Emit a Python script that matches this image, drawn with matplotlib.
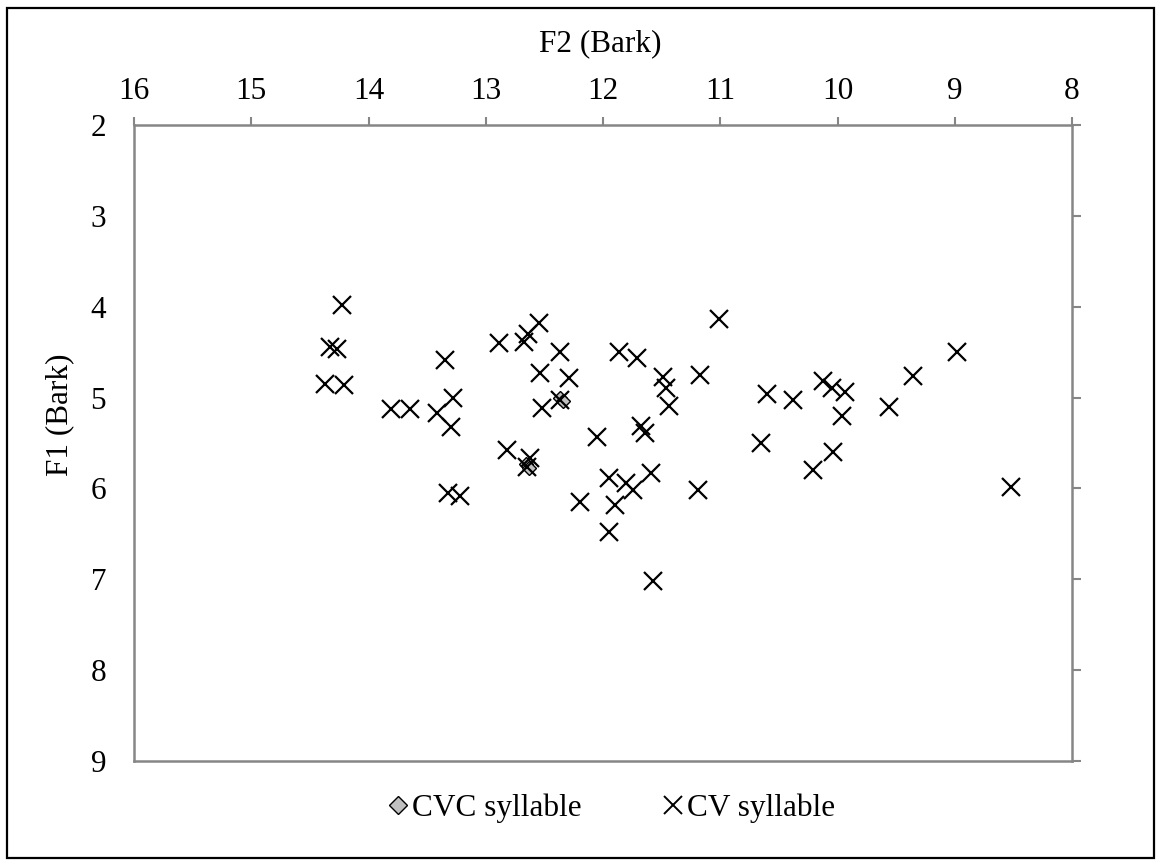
import numpy as np
import matplotlib.pyplot as plt
from matplotlib.patches import Rectangle
from matplotlib.lines import Line2D

plt.rcParams['font.family'] = ['Liberation Serif', 'DejaVu Serif']

# CV syllable (F2, F1) in Bark
cv_f2 = [14.23, 14.33, 14.27, 14.37, 14.21, 13.81, 13.65, 13.42, 13.28, 13.30,
         13.35, 12.89, 12.82, 13.32, 13.22, 12.55, 12.64, 12.67, 12.37, 12.54,
         12.29, 12.37, 12.52, 12.62, 12.65, 12.05, 11.86, 11.71, 11.49, 11.46,
         11.44, 11.68, 11.64, 11.01, 11.17, 11.95, 11.80, 11.74, 11.59, 12.20,
         11.90, 11.95, 11.19, 11.57, 10.60, 10.38, 10.12, 10.05, 9.94, 9.96,
         10.04, 10.21, 10.65, 8.98, 9.36, 9.56, 8.52]
cv_f1 = [3.98, 4.44, 4.46, 4.85, 4.86, 5.13, 5.13, 5.17, 5.01, 5.32,
         4.59, 4.40, 5.58, 6.05, 6.08, 4.18, 4.30, 4.39, 4.50, 4.73,
         4.78, 5.03, 5.11, 5.66, 5.76, 5.43, 4.50, 4.56, 4.77, 4.89,
         5.09, 5.31, 5.39, 4.14, 4.75, 5.88, 5.94, 6.02, 5.83, 6.15,
         6.18, 6.48, 6.02, 7.02, 4.96, 5.03, 4.82, 4.90, 4.94, 5.20,
         5.60, 5.80, 5.50, 4.50, 4.76, 5.10, 5.98]

# CVC syllable
cvc_f2 = [12.37, 12.34, 12.66, 12.63]
cvc_f1 = [5.01, 5.04, 5.73, 5.77]

x_ticks = [16, 15, 14, 13, 12, 11, 10, 9, 8]
y_ticks = [2, 3, 4, 5, 6, 7, 8, 9]

grey = '#868686'
fs = 22.5

fig = plt.figure(figsize=(11.62, 8.65), dpi=100)
ax = fig.add_axes([134 / 1162, 1 - 761 / 865, (1072 - 134) / 1162, (761 - 125) / 865])

ax.plot(cvc_f2, cvc_f1, linestyle='none', marker='D', ms=7.5, mfc='#c0c0c0',
        mec='black', mew=1.0, label='CVC syllable')
ax.plot(cv_f2, cv_f1, linestyle='none', marker='x', ms=13.5, mec='black',
        mew=1.6, label='CV syllable')

ax.set_xlim(16, 8)
ax.set_ylim(9, 2)
ax.set_xticks(x_ticks)
ax.set_yticks(y_ticks)
ax.xaxis.tick_top()
ax.tick_params(axis='x', which='both', top=True, bottom=False, direction='out',
               length=6, width=1.5, color=grey, labelsize=fs, pad=8)
ax.tick_params(axis='y', which='both', left=False, right=True, labelleft=True,
               labelright=False, direction='out', length=6.5, width=1.5,
               color=grey, labelsize=fs, pad=13.5)
for s in ax.spines.values():
    s.set_color(grey)
    s.set_linewidth(1.8)

fig.text(600 / 1162, 1 - 44 / 865, 'F2 (Bark)', ha='center', va='center', fontsize=fs)
fig.text(60 / 1162, 1 - 415 / 865, 'F1 (Bark)', ha='center', va='center',
         rotation=90, fontsize=fs)

handles = [Line2D([], [], linestyle='none', marker='D', ms=9.5, mfc='#c0c0c0', mec='black', mew=1.0),
           Line2D([], [], linestyle='none', marker='x', ms=13, mec='black', mew=1.4)]
fig.legend(handles, ['CVC syllable', 'CV syllable'], loc='center',
           bbox_to_anchor=(612 / 1162, 1 - 808 / 865), ncol=2, frameon=False,
           fontsize=fs, handlelength=0.6, handletextpad=0.15, columnspacing=2.6)

fig.patches.append(Rectangle((7 / 1162, 7 / 865), 1147 / 1162, 850 / 865,
                             transform=fig.transFigure, fill=False,
                             edgecolor='black', linewidth=1.6))

fig.savefig('out.png', dpi=100)
